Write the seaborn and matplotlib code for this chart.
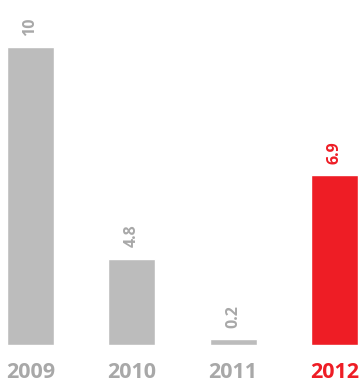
import matplotlib
matplotlib.use("Agg")
import matplotlib.pyplot as plt
import seaborn as sns
import pandas as pd

# valores do gráfico
anos = ["2009", "2010", "2011", "2012"]
rotulos = ["10", "4.8", "0.2", "6.9"]
# altura das barras como desenhadas na figura (escala do rótulo 10 = topo)
alturas = [10, 2.9, 0.2, 5.7]
cores = ["#bcbcbc", "#bcbcbc", "#bcbcbc", "#ee1d25"]
cores_texto = ["#a8a8a8", "#a8a8a8", "#a8a8a8", "#ee1d25"]

df = pd.DataFrame({"ano": anos, "valor": alturas})

sns.set_style("white")
plt.rcParams["font.family"] = ["Open Sans", "DejaVu Sans"]

fig = plt.figure(figsize=(3.59, 3.82), dpi=100)
ax = fig.add_axes([0, 37 / 382, 1, 298 / 382])

sns.barplot(data=df, x="ano", y="valor", hue="ano", palette=cores,
            width=0.464, legend=False, ax=ax, saturation=1)

ax.set_xlim(-0.301, 3.242)
ax.set_ylim(0, 10)
ax.set_xlabel("")
ax.set_ylabel("")
ax.set_yticks([])
sns.despine(ax=ax, left=True, bottom=True)
ax.tick_params(axis="x", length=0, pad=12)

for lbl, cor in zip(ax.get_xticklabels(), cores_texto):
    lbl.set_color(cor)
    lbl.set_fontweight("bold")
    lbl.set_fontsize(15.5)

for i, (h, txt) in enumerate(zip(alturas, rotulos)):
    ax.annotate(txt, (i, h), xytext=(0, 8), textcoords="offset points",
                rotation=90, ha="center", va="bottom", fontsize=11.5,
                fontweight="bold", color=cores_texto[i], clip_on=False,
                annotation_clip=False)

fig.savefig("out.png", dpi=100)
